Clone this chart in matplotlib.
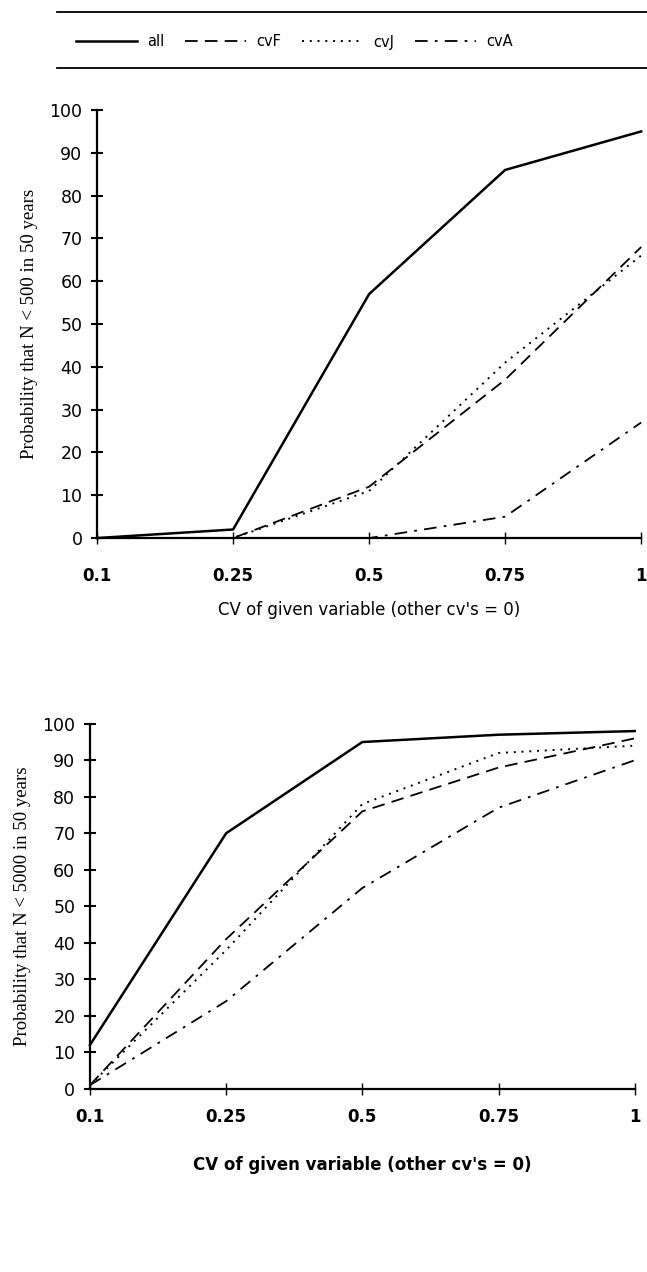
import numpy as np
import matplotlib
matplotlib.use("Agg")
import matplotlib.pyplot as plt
from matplotlib.lines import Line2D


### Data
cv_labels = ['0.1', '0.25', '0.5', '0.75', '1']
series_names = ['all', 'cvF', 'cvJ', 'cvA']

# P(N < 500 in 50 years)  [%]
p500_all = [0, 2, 57, 86, 95]
p500_cvF = [0, 0, 12, 37, 68]
p500_cvJ = [0, 0, 11, 41, 66]
p500_cvA = [0, 0, 0, 5, 27]

# P(N < 5000 in 50 years)  [%]
p5000_all = [12, 70, 95, 97, 98]
p5000_cvF = [1, 41, 76, 88, 96]
p5000_cvJ = [1, 38, 78, 92, 94]
p5000_cvA = [1, 24, 55, 77, 90]


### styles
styles = {
  'all': dict(ls='-', lw=1.8),
  'cvF': dict(ls=(0, (7, 4)), lw=1.3),
  'cvJ': dict(ls=(0, (1, 3)), lw=1.4),
  'cvA': dict(ls=(0, (7, 4, 1.5, 4)), lw=1.3),
}

ylab_font = ['Liberation Serif', 'DejaVu Sans']

fig = plt.figure(figsize=(6.47, 12.72), dpi=100)
ax1 = fig.add_axes([0.150, 0.577, 0.841, 0.3365])
ax2 = fig.add_axes([0.139, 0.144, 0.842, 0.287])


def draw(ax, data, ylabel, xbold, tpad, lpad):
    x = np.arange(len(cv_labels))
    for name, vals in zip(series_names, data):
        ax.plot(x, vals, color='black', clip_on=False, label=name, **styles[name])
    ax.set_xlim(0, len(cv_labels) - 1)
    ax.set_ylim(0, 100)
    ax.set_xticks(x)
    ax.set_xticklabels(cv_labels, fontsize=12, fontweight='bold')
    ax.set_yticks(np.arange(0, 101, 10))
    ax.tick_params(axis='y', direction='inout', length=9, width=1.5,
                   labelsize=12.5, pad=6)
    ax.tick_params(axis='x', direction='inout', length=9, width=1.0, pad=tpad)
    for s in ['top', 'right']:
        ax.spines[s].set_visible(False)
    ax.spines['left'].set_linewidth(1.6)
    ax.spines['bottom'].set_linewidth(1.6)
    ax.set_xlabel("CV of given variable (other cv's = 0)", fontsize=12,
                  fontweight='bold' if xbold else 'medium', labelpad=lpad)
    ax.set_ylabel(ylabel, fontsize=13.5, family=ylab_font, labelpad=8)


draw(ax1, [p500_all, p500_cvF, p500_cvJ, p500_cvA],
     'Probability that N < 500 in 50 years', False, 16, 12)
draw(ax2, [p5000_all, p5000_cvF, p5000_cvJ, p5000_cvA],
     'Probability that N < 5000 in 50 years', True, 9, 22)

# legend band across the top
handles, labels = ax1.get_legend_handles_labels()
fig.legend(handles, labels, loc='center', bbox_to_anchor=(0.455, 1 - 42 / 1272),
           ncol=4, frameon=False, fontsize=10.5, handlelength=4.2,
           columnspacing=1.4, handletextpad=0.7)
for yy in [12, 68]:
    fig.add_artist(Line2D([57 / 647, 1.0], [1 - yy / 1272] * 2,
                          color='black', lw=1.3))

fig.savefig('out.png', dpi=100)
